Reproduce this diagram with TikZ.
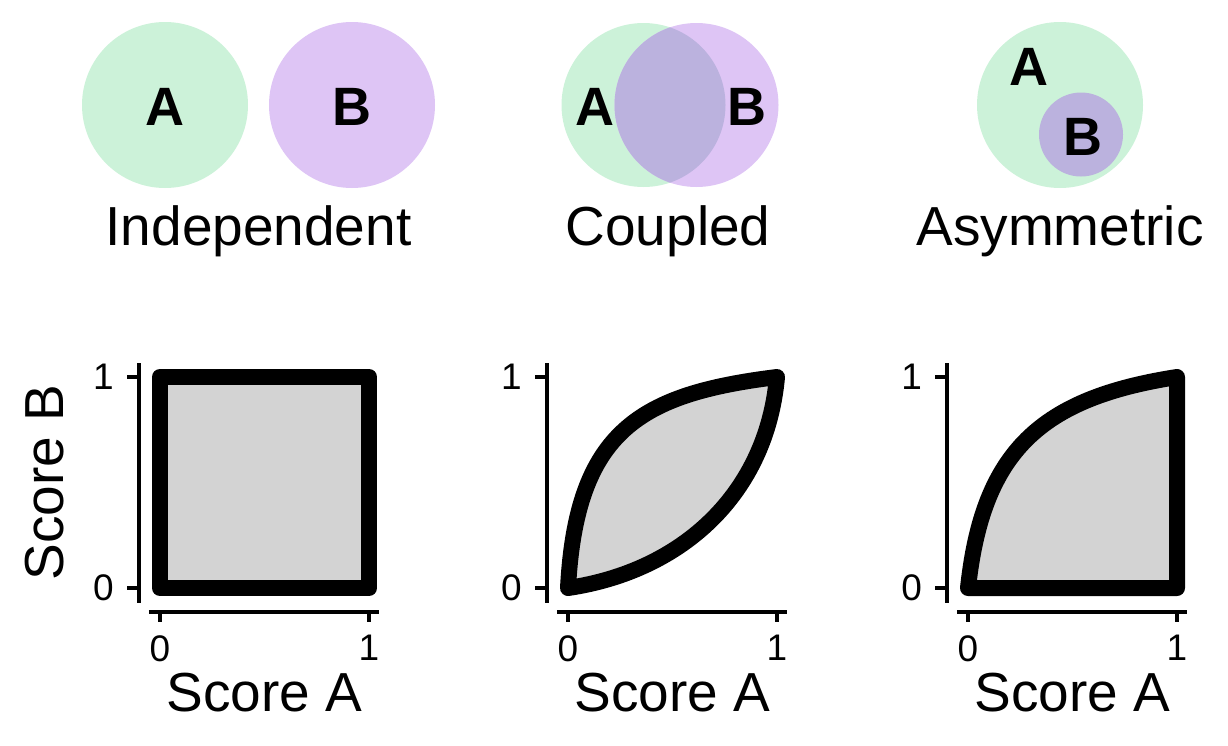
\documentclass[tikz,border=0pt]{standalone}
\usepackage{fontspec}
\setmainfont{Liberation Sans}

\definecolor{setA}{RGB}{204,242,217}
\definecolor{setB}{RGB}{222,197,245}
\definecolor{setAB}{RGB}{187,178,222}
\definecolor{regiongray}{RGB}{211,211,211}

\tikzset{
  setlabel/.style={font=\fontsize{54}{54}\selectfont\bfseries, inner sep=0pt},
  caption/.style={font=\fontsize{55}{60}\selectfont, inner sep=0pt},
  ticklabel/.style={font=\fontsize{37}{40}\selectfont, inner sep=0pt},
  axisline/.style={line width=3.5pt},
  region/.style={fill=regiongray, draw=black, line width=16pt, line join=round}
}

\begin{document}
\begin{tikzpicture}[x=1pt,y=-1pt]
\useasboundingbox (0,0) rectangle (1228,745);

% top row: the three set pictures
\fill[setA] (165,105) circle (83pt);
\fill[setB] (352,105) circle (83pt);
\node[setlabel] (indA) at (165,107) {A};
\node[setlabel] (indB) at (352,107) {B};
\node[caption, anchor=base] (indcap) at (258.5,245) {Independent};

\fill[setA] (643.5,105) circle (82pt);
\fill[setB] (696.5,105) circle (82pt);
\begin{scope}
  \clip (643.5,105) circle (82pt);
  \fill[setAB] (696.5,105) circle (82pt);
\end{scope}
\node[setlabel] (cplA) at (595,107) {A};
\node[setlabel] (cplB) at (746.5,107) {B};
\node[caption, anchor=base] (cplcap) at (668,245) {Coupled};

\fill[setA] (1060,105) circle (83pt);
\fill[setAB] (1081,134.5) circle (42pt);
\node[setlabel] (asyA) at (1029,66.5) {A};
\node[setlabel] (asyB) at (1083,136.5) {B};
\node[caption, anchor=base] (asycap) at (1060,245) {Asymmetric};

% bottom row: axes of the three score plots
\foreach \px/\nm in {160/ind,568/cpl,968/asy} {
  \begin{scope}[shift={(\px,588)}, x=209pt, y=211pt]
    \draw[axisline] (-0.1,-0.07) -- (-0.1,1.066);
    \draw[axisline] (-0.053,-0.114) -- (1.048,-0.114);
    \foreach \t in {0,1} {
      \draw[axisline] (-0.1,\t) -- (-0.157,\t);
      \draw[axisline] (\t,-0.114) -- (\t,-0.161);
      \node[ticklabel, anchor=east] (\nm-y\t) at (-0.22,\t) {\t};
      \node[ticklabel, anchor=north] (\nm-x\t) at (\t,-0.223) {\t};
    }
    \node[caption, anchor=base] (\nm-xlab) at (0.5,-0.583) {Score A};
  \end{scope}
}

% regions
\begin{scope}[shift={(160,588)}, x=209pt, y=211pt]
  \filldraw[region] (0,0) rectangle (1,1);
  \node[caption, rotate=90, anchor=base] (ind-ylab) at (-0.463,0.5) {Score B};
\end{scope}
\begin{scope}[shift={(568,588)}, x=209pt, y=211pt]
  \filldraw[region] (0,0) .. controls (0.04,0.75) and (0.35,0.92) .. (1,1)
    .. controls (0.95,0.45) and (0.55,0.08) .. (0,0) -- cycle;
\end{scope}
\begin{scope}[shift={(968,588)}, x=209pt, y=211pt]
  \filldraw[region] (0,0) .. controls (0.07,0.65) and (0.35,0.9) .. (1,1)
    -- (1,0) -- cycle;
\end{scope}
\end{tikzpicture}
\end{document}
